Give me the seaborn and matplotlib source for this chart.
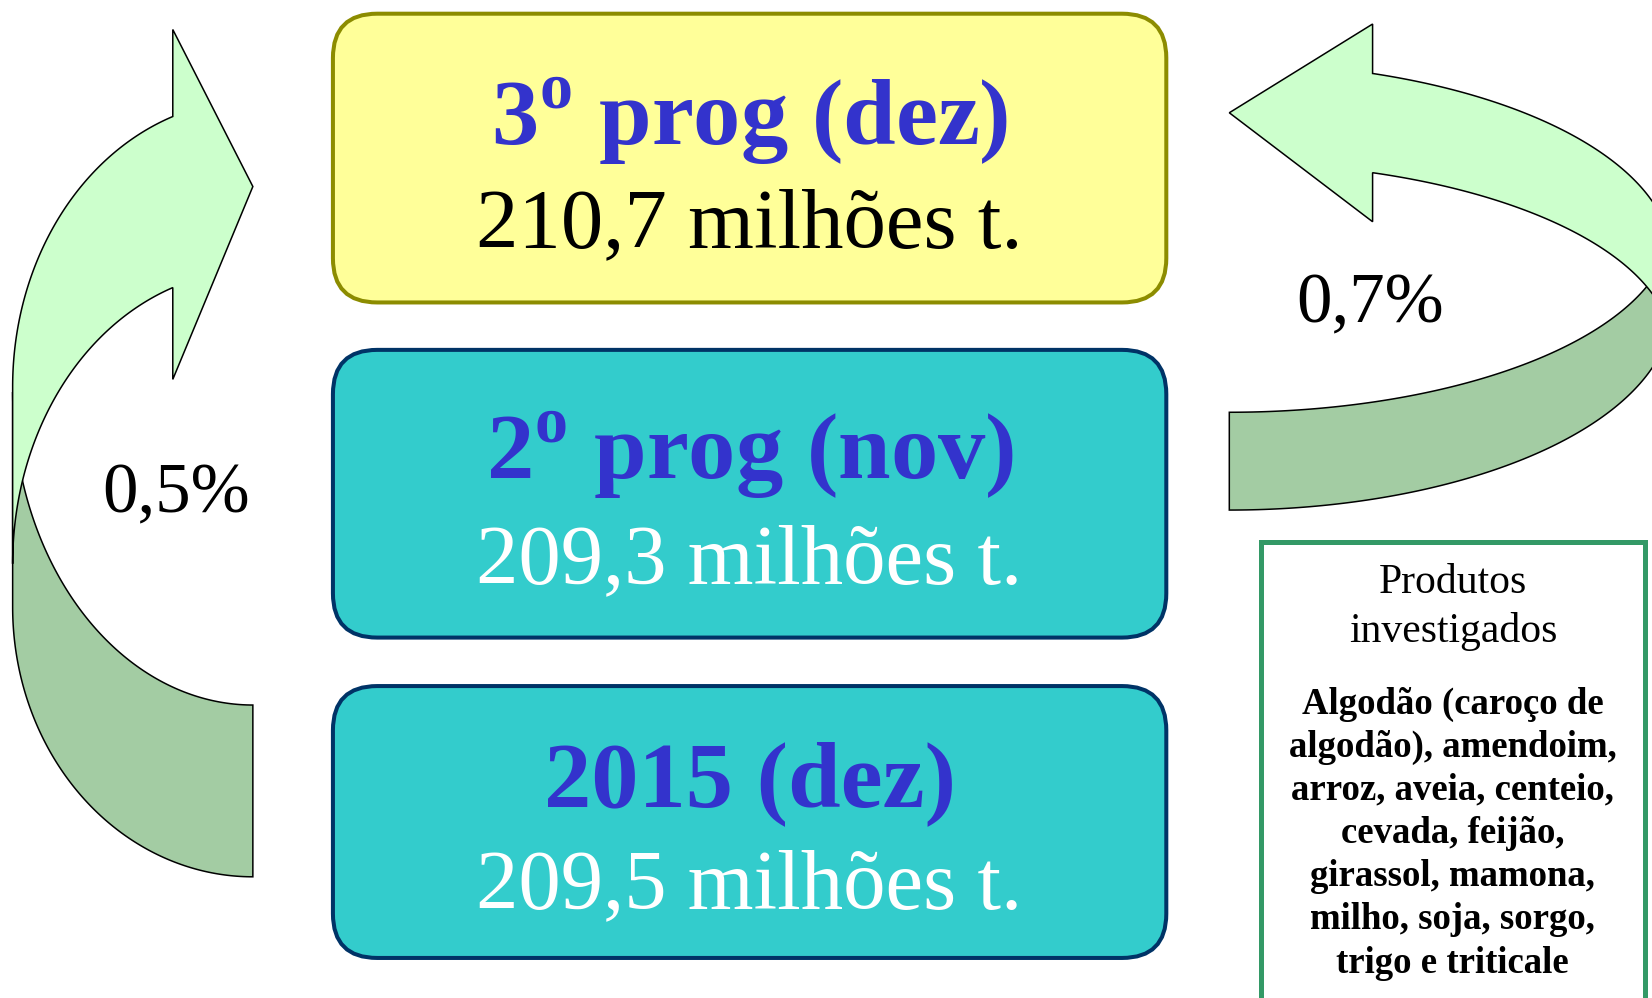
import numpy as np
import matplotlib
matplotlib.use("Agg")
import matplotlib.pyplot as plt
from matplotlib.patches import FancyBboxPatch, Polygon, Rectangle
import seaborn as sns

# -----------------------
# Data
# -----------------------
STAGES = ["3º prog (dez)", "2º prog (nov)", "2015 (dez)"]
VALUES_MT = [210.7, 209.3, 209.5]          # milhões t.
CHANGE_PCT = [0.5, 0.7]                    # left arrow, right arrow
PRODUCTS_TITLE = ["Produtos", "investigados"]
PRODUCT_LINES = [
    "Algodão (caroço de",
    "algodão), amendoim,",
    "arroz, aveia, centeio,",
    "cevada, feijão,",
    "girassol, mamona,",
    "milho, soja, sorgo,",
    "trigo e triticale",
]

# -----------------------
# Style
# -----------------------
sns.set_theme(style="white")
plt.rcParams["font.family"] = ["Liberation Serif", "DejaVu Serif"]
plt.rcParams["mathtext.fontset"] = "custom"
plt.rcParams["mathtext.rm"] = "Liberation Serif"
plt.rcParams["mathtext.bf"] = "Liberation Serif:bold"

BLUE = "#3333CC"
YELLOW, OLIVE = "#FFFF99", "#8C8C00"
TEAL, NAVY = "#33CCCC", "#003366"
LIGHT_GREEN, DARK_GREEN = "#CCFFCC", "#A3CCA3"
BOX_GREEN = "#339966"

W, H = 1568, 947
fig = plt.figure(figsize=(16.52, 9.98), dpi=100)
ax = fig.add_axes([0, 0, 1, 1])
ax.set_xlim(0, W)
ax.set_ylim(H, 0)
ax.set_axis_off()


def fmt(v):
    return f"{v:.1f}".replace(".", ",")


def arc(cx, cy, a, b, t0, t1, n=120):
    t = np.linspace(t0, t1, n)
    return np.column_stack([cx + a * np.cos(t), cy + b * np.sin(t)])


# ---- stage boxes (top to bottom)
box_x, box_w = 316, 791
box_tops = [13, 332, 651]
box_hs = [274, 273, 258]
fills = [YELLOW, TEAL, TEAL]
edges = [OLIVE, NAVY, NAVY]
value_colors = ["black", "white", "white"]
title_base = [138, 455, 765]
value_base = [235, 553, 862]

for i, stage in enumerate(STAGES):
    ax.add_patch(FancyBboxPatch((box_x, box_tops[i]), box_w, box_hs[i],
                                boxstyle="round,pad=0,rounding_size=42",
                                fc=fills[i], ec=edges[i], lw=2.9))
    if "º" in stage:
        head, tail = stage.split("º", 1)
        label = head + r"$^{\mathbf{o}}$" + tail
    else:
        label = stage
    cx = box_x + box_w / 2
    ax.text(cx, title_base[i], label, ha="center", va="baseline",
            fontsize=68, fontweight="bold", color=BLUE)
    ax.text(cx, value_base[i], f"{fmt(VALUES_MT[i])} milhões t.", ha="center",
            va="baseline", fontsize=61, color=value_colors[i])

# ---- left curved arrow (dark back band first, then light front band)
phi = np.arccos(76 / 228)
dark_l = np.vstack([
    arc(240, 372, 228, 297, np.pi, np.pi / 2),
    arc(240, 576, 228, 256, np.pi / 2, np.pi),
])
light_l = np.vstack([
    arc(240, 367, 228, 272, np.pi + phi, np.pi),
    arc(240, 535, 228, 278, np.pi, np.pi + phi),
    [[164, 360], [240, 177], [164, 28]],
])
ax.add_patch(Polygon(dark_l, closed=True, fc=DARK_GREEN, ec="black", lw=1.1))
ax.add_patch(Polygon(light_l, closed=True, fc=LIGHT_GREEN, ec="black", lw=1.1))

# ---- right curved arrow
psi = np.arccos(136 / 420)
rx = 1166.8
dark_r = np.vstack([
    arc(rx, 212.7, 420, 178.5, np.pi / 2, 0),
    arc(rx, 292.7, 420, 191.3, 0, np.pi / 2),
])
light_r = np.vstack([
    arc(rx, 245.7, 420, 186, -psi, 0),
    arc(rx, 330.4, 420, 176, 0, -psi),
    [[1302.8, 210.4], [1166.8, 107], [1302.8, 22.8]],
])
ax.add_patch(Polygon(dark_r, closed=True, fc=DARK_GREEN, ec="black", lw=1.1))
ax.add_patch(Polygon(light_r, closed=True, fc=LIGHT_GREEN, ec="black", lw=1.1))

# ---- change labels
ax.text(167, 486, f"{fmt(CHANGE_PCT[0])}%", ha="center", va="baseline",
        fontsize=51, color="black")
ax.text(1300, 306, f"{fmt(CHANGE_PCT[1])}%", ha="center", va="baseline",
        fontsize=51, color="black")

# ---- products box
ax.add_patch(Rectangle((1196.5, 514.5), 365, 500, fc="white", ec=BOX_GREEN, lw=3.6))
for j, line in enumerate(PRODUCTS_TITLE):
    ax.text(1379, 563 + j * 46, line, ha="center", va="baseline",
            fontsize=30, color="black")
for j, line in enumerate(PRODUCT_LINES):
    ax.text(1379, 677 + j * 41, line, ha="center", va="baseline",
            fontsize=26.5, fontweight="bold", color="black")

fig.savefig("out.png", dpi=100, facecolor="white")
plt.close(fig)
